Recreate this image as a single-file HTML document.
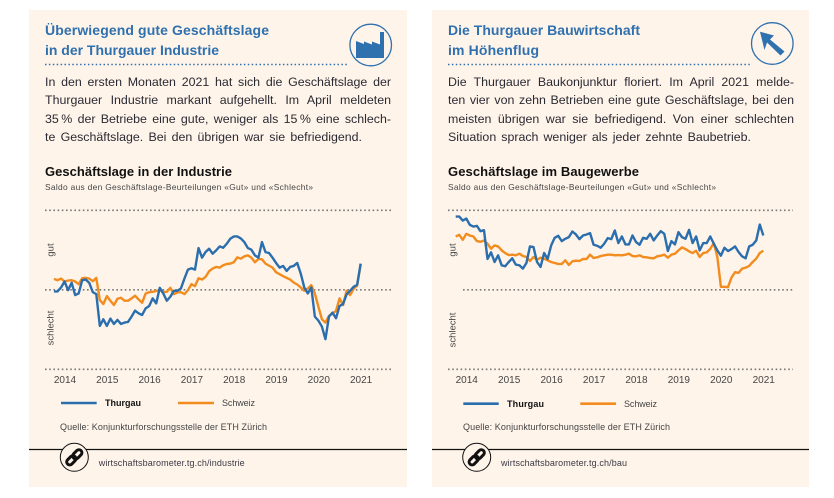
<!DOCTYPE html>
<html lang="de">
<head>
<meta charset="utf-8">
<title>Geschäftslage Thurgau</title>
<style>
html,body{margin:0;padding:0;background:#fff;}
body{width:834px;height:498px;overflow:hidden;position:relative;font-family:"Liberation Sans",sans-serif;}
.card{position:absolute;top:10px;height:477px;background:#fff4ea;}
#stage{position:absolute;left:0;top:0;}
.para-line{position:absolute;font-size:12.4px;line-height:18px;height:18px;color:#2a2a33;text-align:justify;text-align-last:justify;white-space:nowrap;}
svg text{font-family:"Liberation Sans",sans-serif;}
</style>
</head>
<body>
<div class="card" style="left:29px;width:378px;"></div>
<div class="card" style="left:432px;width:377px;"></div>

<svg id="stage" width="834" height="498" viewBox="0 0 834 498">
  <!-- left header -->
  <text x="45" y="35" font-size="14" font-weight="700" fill="#2f70ae" textLength="224">Überwiegend gute Geschäftslage</text>
  <text x="45" y="55" font-size="14" font-weight="700" fill="#2f70ae" textLength="174">in der Thurgauer Industrie</text>
  <line x1="45" y1="64.5" x2="348" y2="64.5" stroke="#2f70ae" stroke-width="1.5" stroke-dasharray="1.5 2.4"/>
  <g>
    <circle cx="370.7" cy="45" r="20.8" fill="none" stroke="#2f70ae" stroke-width="1.3"/>
    <polygon points="356,41 364,44 364,41.5 372,44.5 372,41.5 380,44.5 380,32 384,32 384,58 356,58" fill="#2f70ae"/>
  </g>
  <text x="45" y="176" font-size="13" font-weight="700" fill="#111" textLength="187">Geschäftslage in der Industrie</text>
  <text x="45" y="190" font-size="8.4" fill="#444" textLength="268">Saldo aus den Geschäftslage-Beurteilungen «Gut» und «Schlecht»</text>

  <!-- right header -->
  <text x="448" y="35" font-size="14" font-weight="700" fill="#2f70ae" textLength="192">Die Thurgauer Bauwirtschaft</text>
  <text x="448" y="55" font-size="14" font-weight="700" fill="#2f70ae" textLength="91">im Höhenflug</text>
  <line x1="448" y1="64.5" x2="751" y2="64.5" stroke="#2f70ae" stroke-width="1.5" stroke-dasharray="1.5 2.4"/>
  <g>
    <circle cx="772.3" cy="43.5" r="20.8" fill="none" stroke="#2f70ae" stroke-width="1.3"/>
    <polygon points="760,31.7 774,35.5 770,39.5 784.5,51.5 780.5,55.5 767,42.5 764.5,50" fill="#2f70ae"/>
  </g>
  <text x="448" y="176" font-size="13" font-weight="700" fill="#111" textLength="191">Geschäftslage im Baugewerbe</text>
  <text x="448" y="190" font-size="8.4" fill="#444" textLength="268">Saldo aus den Geschäftslage-Beurteilungen «Gut» und «Schlecht»</text>

  <!-- axis side labels -->
  <text transform="translate(53.5,250) rotate(-90)" text-anchor="middle" font-size="9.5" fill="#444">gut</text>
  <text transform="translate(53.5,328) rotate(-90)" text-anchor="middle" font-size="9.5" fill="#444">schlecht</text>
  <text transform="translate(455.5,250) rotate(-90)" text-anchor="middle" font-size="9.5" fill="#444">gut</text>
  <text transform="translate(455.5,330) rotate(-90)" text-anchor="middle" font-size="9.5" fill="#444">schlecht</text>

  <!-- left legend and footer -->
  <line x1="61" y1="403" x2="96.7" y2="403" stroke="#2a6eae" stroke-width="2.6"/>
  <text x="105" y="406" font-size="9" font-weight="700" fill="#111" textLength="36">Thurgau</text>
  <line x1="178" y1="403" x2="214" y2="403" stroke="#f28c1f" stroke-width="2.6"/>
  <text x="222" y="406" font-size="9" fill="#444" textLength="33">Schweiz</text>
  <text x="60" y="430" font-size="9" fill="#444" textLength="207">Quelle: Konjunkturforschungsstelle der ETH Zürich</text>
  <line x1="29" y1="449.5" x2="407" y2="449.5" stroke="#111" stroke-width="1.2"/>
  <g>
    <circle cx="74.3" cy="457.3" r="14" fill="#fff4ea" stroke="#111" stroke-width="1"/>
    <g transform="rotate(-45 74.3 457.3)" fill="none" stroke="#111" stroke-width="3">
      <rect x="64.8" y="454.3" width="10.5" height="6" rx="3"/>
      <rect x="73.3" y="454.3" width="10.5" height="6" rx="3"/>
    </g>
  </g>
  <text x="98.7" y="466" font-size="9" fill="#3a3a44" textLength="146">wirtschaftsbarometer.tg.ch/industrie</text>

  <!-- right legend and footer -->
  <line x1="463.3" y1="403.7" x2="498.7" y2="403.7" stroke="#2a6eae" stroke-width="2.6"/>
  <text x="507" y="407" font-size="9" font-weight="700" fill="#111" textLength="37">Thurgau</text>
  <line x1="580.3" y1="403.7" x2="616" y2="403.7" stroke="#f28c1f" stroke-width="2.6"/>
  <text x="624" y="407" font-size="9" fill="#444" textLength="33">Schweiz</text>
  <text x="463" y="430" font-size="9" fill="#444" textLength="207">Quelle: Konjunkturforschungsstelle der ETH Zürich</text>
  <line x1="432" y1="449.5" x2="809" y2="449.5" stroke="#111" stroke-width="1.2"/>
  <g>
    <circle cx="476.7" cy="457.3" r="14" fill="#fff4ea" stroke="#111" stroke-width="1"/>
    <g transform="rotate(-45 476.7 457.3)" fill="none" stroke="#111" stroke-width="3">
      <rect x="467.2" y="454.3" width="10.5" height="6" rx="3"/>
      <rect x="475.7" y="454.3" width="10.5" height="6" rx="3"/>
    </g>
  </g>
  <text x="501" y="466" font-size="9" fill="#3a3a44" textLength="126">wirtschaftsbarometer.tg.ch/bau</text>

  <g id="chart-left"></g>
  <g id="chart-right"></g>
</svg>

<div class="para-line" style="left:45px;top:73px;width:346px;">In den ersten Monaten 2021 hat sich die Geschäftslage der</div>
<div class="para-line" style="left:45px;top:91.3px;width:346px;">Thurgauer Industrie markant aufgehellt. Im April meldeten</div>
<div class="para-line" style="left:45px;top:109.6px;width:346px;">35&#8201;% der Betriebe eine gute, weniger als 15&#8201;% eine schlech-</div>
<div class="para-line" style="left:45px;top:128px;width:317px;">te Geschäftslage. Bei den übrigen war sie befriedigend.</div>

<div class="para-line" style="left:448px;top:73px;width:346px;">Die Thurgauer Baukonjunktur floriert. Im April 2021 melde-</div>
<div class="para-line" style="left:448px;top:91.3px;width:346px;">ten vier von zehn Betrieben eine gute Geschäftslage, bei den</div>
<div class="para-line" style="left:448px;top:109.6px;width:346px;">meisten übrigen war sie befriedigend. Von einer schlechten</div>
<div class="para-line" style="left:448px;top:128px;width:303px;">Situation sprach weniger als jeder zehnte Baubetrieb.</div>

<script>
var tickYears = ['2014','2015','2016','2017','2018','2019','2020','2021'];
var referenceLevels = [60, 0, -60];
var industryThurgau = [-1.25,-1.25,1.75,6.25,-0.25,5.25,-4,-2.75,7.25,7.75,5.25,-1.75,-3.25,-27.25,-22.25,-27.25,-21.75,-25.75,-22.75,-25.75,-24.75,-24.25,-20.25,-15.75,-17.75,-19,-14,-12.25,-6.5,-10.25,1.5,-2.75,-8.25,-5.25,-0.75,-0.75,1,8.5,15.25,16.25,15.25,31.5,24.25,28.5,31,27.25,29.75,32.75,31.75,34.75,38.5,40.25,40.25,38.75,36,31.5,30.25,26,24.25,36,28.5,27.75,24.25,20.25,16.75,18,14.25,17.25,18,20.25,12.25,1.75,-2.75,1.75,-20.25,-23.25,-27.75,-37.25,-20.25,-17.25,-21.5,-12.25,-10.75,-3.5,-0.75,2.25,3.75,19.75];
var industrySchweiz = [8.25,7.25,8.5,6.25,7,7.25,6.25,4.25,8.75,9,8.5,6.5,9,-7.75,-10.75,-4.75,-8.25,-11.5,-6.75,-6,-8.25,-8.25,-6.5,-4.5,-7.25,-9.75,-2.75,-1.75,-1.5,-0.75,-0.25,-1.75,-1.5,1.5,-3.25,-2,-1.75,-3.25,-0.25,4.25,2.75,8.75,7.75,9.75,14,16,17.25,16.75,18.5,19.5,19.75,20.75,24.5,23.5,25.25,26,24.25,20.75,23.25,23,19.75,18.25,16.75,13.25,11.75,10.25,9,7.75,5.5,4,1.75,-0.75,1,3.5,-2.75,-12.75,-22.25,-24.75,-19.75,-17.75,-16,-6.5,-11.5,-0.75,-4,0.75,3.25,19.25];
var bauThurgau = [55.25,55.25,52.25,53.75,49,47.75,48.25,44.25,45,23.25,28.25,21,26,18.5,17.75,21,23.75,19,18.5,16,20.25,32.75,32.25,21,17.25,27.75,23.25,33.5,39.25,40.75,36.75,38.5,39.75,44,41.75,38.25,41,41.75,42.75,34,33.25,31.75,34.75,39,38.25,44.75,35.25,40.25,34.25,34.25,41,36,34,39.25,38.5,42.25,37.25,41,44.25,42.25,29.25,36.75,34.25,43.5,39.75,38.5,45.25,35.25,40.25,29.75,35.25,35.25,40.25,34.75,29.75,25.75,31.75,29.25,30.75,32.75,28.5,25.25,23.75,32.75,34,37.25,49.25,41];
var bauSchweiz = [40.25,41.5,37.75,42.25,41,40.25,36.75,36.25,37.25,34.75,31,33.5,32.75,29.75,27.75,26.25,26.5,26,27.25,25.5,24.75,21.75,24.75,22.75,24.25,23.5,22.25,21,20.25,19.5,19.5,22.25,18.75,21.5,22,21.75,23.25,23.25,26.5,24,24.5,25.5,26,26.5,26.5,26,26.25,26,26.5,27.25,25.5,25.25,26,24.75,24.5,24,23.75,25.25,25.75,26.5,24.25,26.5,27.25,29.75,32,30.75,29,27.75,29.5,24.75,27.75,28.25,31,35.25,24.75,2.25,2.25,2,9.25,13.25,12.75,16,16.75,18,21,23.5,27.75,29.5];

var SVG_NS = 'http://www.w3.org/2000/svg';

function makeAxes(x0, yearWidth) {
  return {
    x: function (yearOffset) { return x0 + yearOffset * yearWidth; },
    y: function (value) { return 289.8 - value * 79.5 / 60; }
  };
}

function seriesPath(values, axes) {
  var d = '';
  for (var i = 0; i < values.length; i++) {
    d += (i ? 'L' : 'M') + axes.x(i / 12).toFixed(2) + ' ' + axes.y(values[i]).toFixed(2);
  }
  return d;
}

function drawLevels(group, axes, left, right, midLeft) {
  referenceLevels.forEach(function (level) {
    var line = document.createElementNS(SVG_NS, 'line');
    
    
    line.setAttribute('x1', level === 0 ? midLeft : left);
    line.setAttribute('x2', right);
    line.setAttribute('y1', axes.y(level));
    line.setAttribute('y2', axes.y(level));
    line.setAttribute('stroke', '#777');
    line.setAttribute('stroke-width', '1.6');
    line.setAttribute('stroke-dasharray', '1.6 2.6');
    group.appendChild(line);
  });
}

function drawTicks(group, axes) {
  tickYears.forEach(function (label, i) {
    var text = document.createElementNS(SVG_NS, 'text');
    
    
    text.setAttribute('x', axes.x(i + 0.26));
    text.setAttribute('y', 383);
    text.setAttribute('text-anchor', 'middle');
    text.setAttribute('font-size', '10');
    text.setAttribute('fill', '#444');
    text.textContent = label;
    group.appendChild(text);
  });
}

function drawSeries(group, values, axes, color, name) {
  var path = document.createElementNS(SVG_NS, 'path');
  
  
  path.setAttribute('d', seriesPath(values, axes));
  path.setAttribute('fill', 'none');
  path.setAttribute('stroke', color);
  path.setAttribute('stroke-width', '2.4');
  path.setAttribute('stroke-linejoin', 'round');
  group.appendChild(path);
}

var leftAxes = makeAxes(54, 42.3);
var leftGroup = document.getElementById('chart-left');
drawLevels(leftGroup, leftAxes, 45, 392, 45);
drawTicks(leftGroup, leftAxes);
drawSeries(leftGroup, industrySchweiz, leftAxes, '#f28c1f', 'industry-schweiz-line');
drawSeries(leftGroup, industryThurgau, leftAxes, '#2a6eae', 'industry-thurgau-line');

var rightAxes = makeAxes(455.7, 42.43);
var rightGroup = document.getElementById('chart-right');
drawLevels(rightGroup, rightAxes, 448, 793, 463);
drawTicks(rightGroup, rightAxes);
drawSeries(rightGroup, bauSchweiz, rightAxes, '#f28c1f', 'construction-schweiz-line');
drawSeries(rightGroup, bauThurgau, rightAxes, '#2a6eae', 'construction-thurgau-line');
</script>
</body>
</html>
